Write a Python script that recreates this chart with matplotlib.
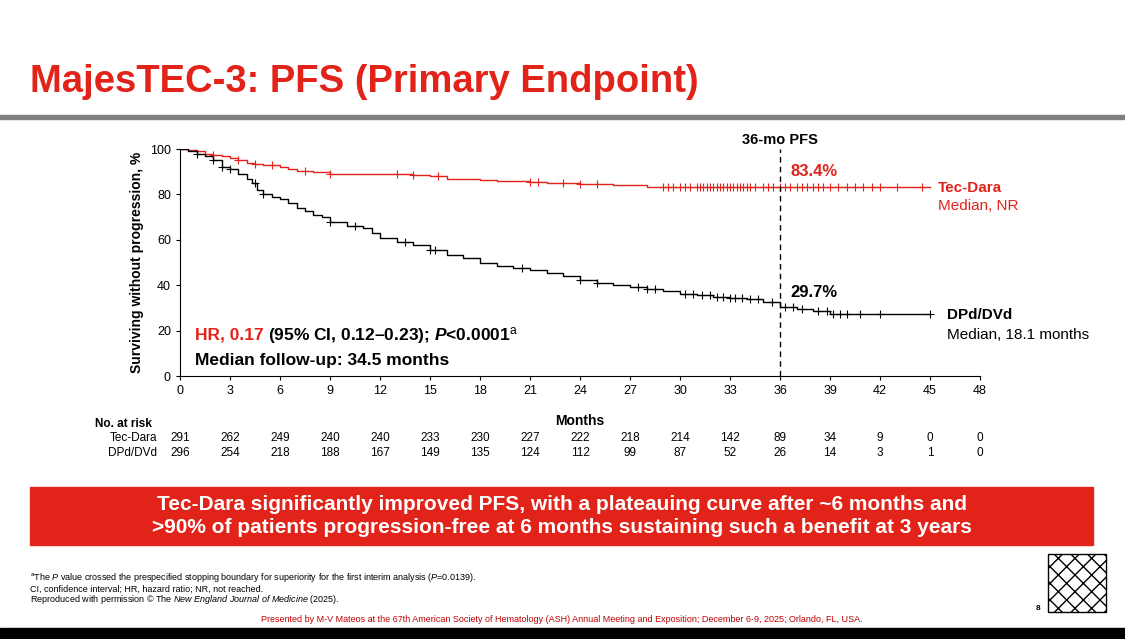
import matplotlib
matplotlib.use('Agg')
import matplotlib.pyplot as plt
import matplotlib.transforms as mtrans
from matplotlib.patches import Rectangle

RED = '#E2231A'
plt.rcParams['font.family'] = ['Liberation Sans', 'DejaVu Sans']
plt.rcParams['mathtext.fontset'] = 'custom'
plt.rcParams['mathtext.rm'] = 'Liberation Sans'
plt.rcParams['mathtext.it'] = 'Liberation Sans:italic'
plt.rcParams['mathtext.bf'] = 'Liberation Sans:bold'
plt.rcParams['mathtext.bfit'] = 'Liberation Sans:bold:italic'

# Kaplan-Meier step points (month, % surviving)
tec_t = [0, 0.5, 1, 1.5, 2, 2.5, 3, 3.5, 4, 4.5, 5, 6, 6.5, 7, 8, 9, 12, 14, 15, 16, 18, 19, 21, 22, 24, 26, 28, 45]
tec_s = [100, 99.5, 99, 98, 97.5, 97, 96, 95, 94, 93.5, 93, 92, 91, 90.5, 90, 89, 89, 88.5, 88, 87, 86.5, 86, 85.5, 85, 84.5, 84, 83.4, 83.4]
tec_cens = [2, 3.5, 4.5, 5.5, 7.5, 9, 13, 14, 15.5, 21, 21.5, 23, 24, 25, 29, 29.3, 29.6, 30, 30.3, 30.6, 31, 31.2, 31.4, 31.6, 31.8,
            32, 32.2, 32.4, 32.6, 32.8, 33, 33.2, 33.4, 33.6, 33.8, 34, 34.2, 34.5, 35, 35.3, 35.6, 36, 36.3, 36.6, 37, 37.3,
            37.6, 38, 38.3, 38.6, 39, 39.5, 40, 40.5, 41, 41.5, 42, 43, 44.5]
dpd_t = [0, 0.5, 1, 1.5, 2, 2.5, 3, 3.5, 4, 4.3, 4.6, 5, 5.5, 6, 6.5, 7, 7.5, 8, 8.5, 9, 10, 11, 11.5, 12, 13, 14, 15, 16, 17, 18,
         19, 20, 21, 22, 23, 24, 25, 26, 27, 28, 29, 30, 31, 32, 33, 34, 35, 36, 37, 38, 39, 45]
dpd_s = [100, 99, 98, 97, 95, 92, 91, 89, 87, 85, 82, 80, 79, 78, 76, 74, 72.5, 71, 70, 68, 66, 65, 63, 61, 59, 57.5, 55.5, 53.5,
         52, 50, 48.5, 47.5, 46.5, 45.5, 44, 42.5, 41, 40, 39, 38.5, 37.5, 36, 35.5, 35, 34.5, 34, 32.5, 30.5, 29.7, 28.5, 27.5, 27.5]
dpd_cens = [1, 2, 2.5, 3, 4.5, 5, 9, 10.5, 13.5, 15, 15.3, 20.5, 24, 25, 27.5, 28, 28.5, 30.3, 30.8, 31.3, 31.8, 32.2, 32.6, 33,
            33.3, 33.7, 34.2, 34.7, 35.5, 36.3, 36.8, 37.3, 38.3, 38.8, 39.2, 39.6, 40, 40.8, 42, 45]

risk_months = list(range(0, 49, 3))
risk_tec = [291, 262, 249, 240, 240, 233, 230, 227, 222, 218, 214, 142, 89, 34, 9, 0, 0]
risk_dpd = [296, 254, 218, 188, 167, 149, 135, 124, 112, 99, 87, 52, 26, 14, 3, 1, 0]


def surv_at(t, ts, ss):
    v = ss[0]
    for ti, si in zip(ts, ss):
        if ti <= t:
            v = si
    return v


fig = plt.figure(figsize=(11.25, 6.39), dpi=100)
fig.patch.set_facecolor('white')

# title and rule
fig.text(30 / 1125, 1 - 82 / 639, 'MajesTEC-3: PFS (Primary Endpoint)', color=RED, fontsize=27.5,
         fontweight='bold', va='center', ha='left')
fig.add_artist(Rectangle((0, 1 - 119 / 639), 1, 4 / 639, transform=fig.transFigure, color='#7F7F7F'))

ax = fig.add_axes([180 / 1125, 1 - 376 / 639, 800 / 1125, 227 / 639])
ax.step(tec_t, tec_s, where='post', color=RED, lw=1)
ax.step(dpd_t, dpd_s, where='post', color='black', lw=1)
ax.plot(tec_cens, [surv_at(t, tec_t, tec_s) for t in tec_cens], ls='none', marker='+', ms=6, mew=0.8, color=RED)
ax.plot(dpd_cens, [surv_at(t, dpd_t, dpd_s) for t in dpd_cens], ls='none', marker='+', ms=6, mew=0.8, color='black')
ax.axvline(36, color='black', ls=(0, (4, 3)), lw=1, ymax=1.0)

ax.set_xlim(0, 48)
ax.set_ylim(0, 100)
ax.set_xticks(risk_months)
ax.set_yticks([0, 20, 40, 60, 80, 100])
ax.tick_params(labelsize=9, length=3)
for s in ['top', 'right']:
    ax.spines[s].set_visible(False)
ax.set_xlabel('Months', fontsize=10, fontweight='bold', labelpad=12)
ax.set_ylabel('Surviving without progression, %', fontsize=10, fontweight='bold')

ax.text(36, 104, '36-mo PFS', ha='center', va='center', fontsize=10.5, fontweight='bold')
ax.text(36.6, 90, '83.4%', color=RED, fontsize=12, fontweight='bold', va='center')
ax.text(36.6, 37, '29.7%', color='black', fontsize=12, fontweight='bold', va='center')
ax.text(45.5, 83, 'Tec-Dara', color=RED, fontsize=11, fontweight='bold', va='center')
ax.text(45.5, 75, 'Median, NR', color=RED, fontsize=11, va='center')
ax.text(46, 27, 'DPd/DVd', color='black', fontsize=11, fontweight='bold', va='center')
ax.text(46, 18, 'Median, 18.1 months', color='black', fontsize=11, va='center')

ax.text(0.9, 18, 'HR, 0.17', color=RED, fontsize=12.5, fontweight='bold', va='center')
ax.text(5.25, 18, '(95% CI, 0.12\u20130.23); $\\bfit{P}$<0.0001$^{\\rm a}$', color='black', fontsize=12.5,
        fontweight='bold', va='center')
ax.text(0.9, 7, 'Median follow-up: 34.5 months', color='black', fontsize=12.5, fontweight='bold', va='center')

# number at risk table
tr = mtrans.blended_transform_factory(ax.transData, fig.transFigure)
fig.text(95 / 1125, 1 - 424 / 639, 'No. at risk', fontsize=8.5, fontweight='bold', va='center')
fig.text(157 / 1125, 1 - 438 / 639, 'Tec-Dara', fontsize=8.5, va='center', ha='right')
fig.text(157 / 1125, 1 - 453 / 639, 'DPd/DVd', fontsize=8.5, va='center', ha='right')
for m, a, b in zip(risk_months, risk_tec, risk_dpd):
    ax.text(m, 1 - 438 / 639, str(a), transform=tr, fontsize=8.5, ha='center', va='center', clip_on=False)
    ax.text(m, 1 - 453 / 639, str(b), transform=tr, fontsize=8.5, ha='center', va='center', clip_on=False)

# red banner
fig.add_artist(Rectangle((30 / 1125, 1 - 545 / 639), 1063 / 1125, 58 / 639, transform=fig.transFigure, color=RED))
fig.text(562 / 1125, 1 - 516 / 639,
         'Tec-Dara significantly improved PFS, with a plateauing curve after ~6 months and\n'
         '>90% of patients progression-free at 6 months sustaining such a benefit at 3 years',
         color='white', fontsize=15, fontweight='bold', ha='center', va='center', linespacing=1.3)

# footnotes
fig.text(30 / 1125, 1 - 578 / 639,
         '$^{\\rm a}$The $\\it{P}$ value crossed the prespecified stopping boundary for superiority for the first interim analysis ($\\it{P}$=0.0139).',
         fontsize=6.5, va='center')
fig.text(30 / 1125, 1 - 589 / 639, 'CI, confidence interval; HR, hazard ratio; NR, not reached.', fontsize=6.5, va='center')
fig.text(30 / 1125, 1 - 600 / 639,
         'Reproduced with permission \u00a9 The $\\it{New\\ England\\ Journal\\ of\\ Medicine}$ (2025).',
         fontsize=6.5, va='center')
fig.text(562 / 1125, 1 - 620 / 639,
         'Presented by M-V Mateos at the 67th American Society of Hematology (ASH) Annual Meeting and Exposition; '
         'December 6-9, 2025; Orlando, FL, USA.', color='#C00000', fontsize=6.5, ha='center', va='center')
fig.text(1040 / 1125, 1 - 609 / 639, '8', fontsize=6, fontweight='bold', ha='right', va='center')
fig.add_artist(Rectangle((1048 / 1125, 1 - 612 / 639), 58 / 1125, 58 / 639, transform=fig.transFigure,
                         facecolor='white', edgecolor='black', hatch='xx', lw=1))
fig.add_artist(Rectangle((0, 0), 1, 11 / 639, transform=fig.transFigure, color='black'))

fig.savefig('out.png', dpi=100)
